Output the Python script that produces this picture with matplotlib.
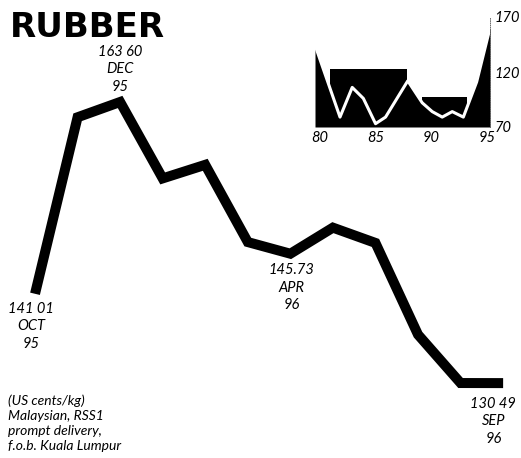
import matplotlib
matplotlib.use('Agg')
import matplotlib.pyplot as plt

# main series: monthly Malaysian RSS1 price, Oct 95 - Sep 96 (US cents/kg)
months = ['OCT', 'NOV', 'DEC', 'JAN', 'FEB', 'MAR', 'APR', 'MAY', 'JUN', 'JUL', 'AUG', 'SEP']
prices = [141.01, 161.8, 163.60, 154.6, 156.2, 147.1, 145.73, 148.8, 147.0, 136.2, 130.5, 130.49]

# labelled points: index, value text, month, year
labels = [
    (0, '141 01', 'OCT', '95'),
    (2, '163 60', 'DEC', '95'),
    (6, '145.73', 'APR', '96'),
    (11, '130 49', 'SEP', '96'),
]
# where each label block sits relative to its point (offset in points, vertical anchor)
label_pos = {0: ((-3, -6), 'top'), 2: ((0, 6), 'bottom'), 6: ((1, -7), 'top'), 11: ((-7, -10), 'top')}

# inset: long-run series 1980-95
inset_years = [79.55, 81.8, 82.9, 83.9, 85.0, 85.9, 87.9, 89.2, 90.1, 91.0, 91.9, 92.9, 94.1, 95.3]
inset_prices = [144.5, 79, 106, 96, 73, 79, 112, 92, 84, 79, 84, 79, 111, 160]
# black bands behind the line (start year, end year, level)
bands = [(80.9, 87.8, 122.7), (89.2, 93.2, 97.3)]
inset_xticks = [80, 85, 90, 95]
inset_yticks = [70, 120, 170]

font = 'Lato'

fig = plt.figure(figsize=(5.21, 4.58), dpi=100)

ax = fig.add_axes([0, 0, 1, 1])
x = list(range(len(months)))
ax.plot(x, prices, color='black', lw=7.2, solid_joinstyle='miter', solid_capstyle='butt')
ax.set_xlim(-0.823, 11.42)
ax.set_ylim(121.67, 175.61)
ax.axis('off')

for i, val, mon, yr in labels:
    off, va = label_pos[i]
    ax.annotate(f'{val}\n{mon}\n{yr}', (i, prices[i]), xytext=off, textcoords='offset points',
                ha='center', va=va, fontsize=10.5, family=font, style='italic',
                linespacing=1.3)

fig.text(0.018, 1 - 11 / 458, 'RUBBER', fontsize=24.5, fontweight='bold', family='DejaVu Sans',
         ha='left', va='top')

fig.text(0.015, 1 - 452 / 458, '(US cents/kg)\nMalaysian, RSS1\nprompt delivery,\nf.o.b. Kuala Lumpur',
         fontsize=10, family=font, style='italic', ha='left', va='bottom', linespacing=1.3)

# inset chart
ins = fig.add_axes([315 / 521, 1 - 127 / 458, 175 / 521, 110 / 458])
ins.fill_between(inset_years, 70, inset_prices, color='black', lw=0)
for x0, x1, lvl in bands:
    ins.fill_between([x0, x1], 70, lvl, color='black', lw=0)
ins.plot(inset_years, inset_prices, color='white', lw=2.2)
ins.set_xlim(79.55, 95.3)
ins.set_ylim(70, 170)
for s in ['top', 'left', 'bottom']:
    ins.spines[s].set_visible(False)
ins.spines['right'].set_linewidth(0.6)
ins.spines['right'].set_linestyle(':')
ins.spines['right'].set_color('#555555')
ins.yaxis.tick_right()
ins.set_yticks(inset_yticks)
ins.set_xticks(inset_xticks)
ins.set_xticklabels([str(t) for t in inset_xticks])
ins.tick_params(length=0, labelsize=10.5, pad=3)
for t in ins.get_xticklabels() + ins.get_yticklabels():
    t.set_family(font)
    t.set_style('italic')

fig.savefig('out.png', dpi=100)
